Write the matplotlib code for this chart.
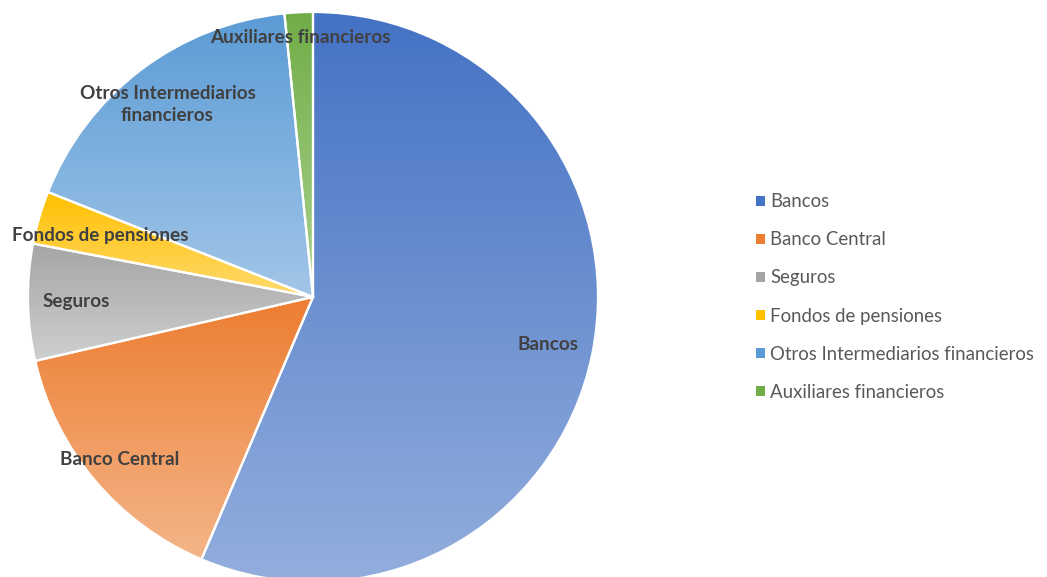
import numpy as np
import matplotlib
matplotlib.use("Agg")
import matplotlib.pyplot as plt
from matplotlib.colors import LinearSegmentedColormap
from matplotlib.patches import Patch

# Shares by institution type (%)
categories = ["Bancos", "Banco Central", "Seguros", "Fondos de pensiones",
              "Otros Intermediarios financieros", "Auxiliares financieros"]
shares = [56.4, 15.0, 6.6, 3.0, 17.4, 1.6]
slice_labels = ["Bancos", "Banco Central", "Seguros", "Fondos de pensiones",
                "Otros Intermediarios\nfinancieros", "Auxiliares financieros"]

# Gradient fill per slice: darker top -> lighter bottom
top_colors = ["#4472C4", "#ED7D31", "#A5A5A5", "#FFC000", "#5B9BD5", "#70AD47"]
bottom_colors = ["#93AEDD", "#F4B589", "#CFCFCF", "#FFDA6E", "#A2C6E8", "#ABD290"]
label_radius = [0.843, 0.886, 0.832, 0.779, 0.847, 0.91]

plt.rcParams["font.family"] = ["Lato", "DejaVu Sans"]

W, H, DPI = 1047, 577, 100
fig = plt.figure(figsize=(W / DPI, H / DPI), dpi=DPI)
cx, cy, R = 313, 297, 285
ax = fig.add_axes([(cx - R) / W, (H - cy - R) / H, 2 * R / W, 2 * R / H])

wedges, _ = ax.pie(shares, startangle=90, counterclock=False, radius=1,
                   wedgeprops=dict(edgecolor="white", linewidth=1.6))

grad = np.linspace(0, 1, 256).reshape(-1, 1)
for w, c0, c1 in zip(wedges, top_colors, bottom_colors):
    ext = w.get_path().get_extents()
    cmap = LinearSegmentedColormap.from_list("g", [c0, c1])
    im = ax.imshow(grad, cmap=cmap, aspect="auto",
                   extent=(ext.x0, ext.x1, ext.y0, ext.y1),
                   origin="upper", interpolation="bilinear", zorder=1)
    im.set_clip_path(w)
    w.set_facecolor("none")
    w.set_zorder(2)

# Slice labels at each wedge's mid-angle
for w, lab, r in zip(wedges, slice_labels, label_radius):
    mid = np.deg2rad((w.theta1 + w.theta2) / 2)
    ax.text(r * np.cos(mid), r * np.sin(mid), lab, ha="center", va="center",
            fontsize=13.6, fontweight="bold", color="#404040", zorder=3,
            linespacing=1.3)

ax.set_xlim(-1, 1)
ax.set_ylim(-1, 1)
ax.set_aspect("equal")
ax.axis("off")

handles = [Patch(facecolor=c, edgecolor="none") for c in top_colors]
fig.legend(handles, categories, loc="center left",
           bbox_to_anchor=(756 / W, 1 - 297 / H), frameon=False,
           fontsize=13.4, labelcolor="#595959", handlelength=0.5,
           handleheight=0.5, handletextpad=0.25, labelspacing=1.13,
           borderpad=0, borderaxespad=0)

fig.savefig("out.png", dpi=DPI)
